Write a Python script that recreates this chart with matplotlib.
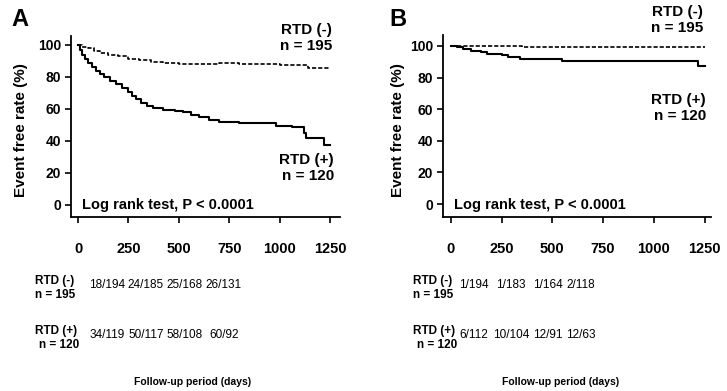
import matplotlib
matplotlib.use("Agg")
import matplotlib.pyplot as plt

plt.rcParams['font.family'] = ['Liberation Sans', 'DejaVu Sans']
plt.rcParams['font.weight'] = 'bold'

# Kaplan-Meier curves (days, event free rate %)
a_neg_t = [0, 20, 50, 80, 110, 150, 200, 250, 300, 360, 420, 500, 600, 700, 800, 900, 1000, 1140, 1250]
a_neg_v = [100, 99, 98, 96.5, 95, 94, 93, 91.5, 90.5, 89.5, 88.5, 88, 88, 88.5, 88, 88, 87.5, 85.5, 85.5]
a_pos_t = [0, 10, 20, 35, 50, 70, 90, 110, 130, 160, 190, 220, 250, 270, 290, 310, 340, 370, 420, 480,
           520, 560, 600, 650, 700, 800, 900, 980, 1060, 1110, 1120, 1130, 1210, 1220, 1250]
a_pos_v = [100, 97, 94, 91.5, 89, 86.5, 84, 82, 80, 77.5, 75.5, 73, 70.5, 68, 66, 64, 62, 60.5, 59.5, 59,
           58, 56.5, 55, 53, 52, 51.5, 51, 49.5, 49, 49, 45, 42, 42, 37.5, 37.5]

b_neg_t = [0, 350, 740, 1250]
b_neg_v = [100, 99.6, 99, 99]
b_pos_t = [0, 30, 60, 100, 150, 180, 250, 280, 340, 450, 550, 600, 800, 1000, 1200, 1215, 1250]
b_pos_v = [100, 99, 98, 97, 96, 94.8, 94.5, 93, 91.7, 91.5, 90.5, 90.2, 90.2, 90.2, 90.2, 87.5, 87]

x_ticks = [0, 250, 500, 750, 1000, 1250]
y_ticks = [0, 20, 40, 60, 80, 100]

a_neg_events = ["18/194", "24/185", "25/168", "26/131"]
a_pos_events = ["34/119", "50/117", "58/108", "60/92"]
b_neg_events = ["1/194", "1/183", "1/164", "2/118"]
b_pos_events = ["6/112", "10/104", "12/91", "12/63"]

W, H = 727, 391
fig = plt.figure(figsize=(W / 100, H / 100), dpi=100)


def px(x, y):
    return x / W, 1 - y / H


panels = [
    dict(letter="A", box=(71, 36, 340, 217), xlim=(-35, 1300), ylim=(-7.5, 105.6),
         neg=(a_neg_t, a_neg_v), pos=(a_pos_t, a_pos_v),
         neg_lbl=(332, 38), pos_lbl=(334, 168), letter_xy=(11, 20), ylab_x=21,
         tbl_lbl_x=35, cols=[107, 146, 185, 224], ev=(a_neg_events, a_pos_events), foot_x=193),
    dict(letter="B", box=(443, 35, 711, 217), xlim=(-38, 1281), ylim=(-8.2, 106.9),
         neg=(b_neg_t, b_neg_v), pos=(b_pos_t, b_pos_v),
         neg_lbl=(703, 20), pos_lbl=(706, 108), letter_xy=(389, 20), ylab_x=398,
         tbl_lbl_x=413, cols=[474, 511, 548, 581], ev=(b_neg_events, b_pos_events), foot_x=561),
]

for p in panels:
    l, t, r, b = p["box"]
    ax = fig.add_axes([l / W, 1 - b / H, (r - l) / W, (b - t) / H])
    ax.step(*p["neg"], where="post", color="black", lw=1.2, ls=(0, (2.5, 1.2)))
    ax.step(*p["pos"], where="post", color="black", lw=1.5)
    ax.set_xlim(*p["xlim"])
    ax.set_ylim(*p["ylim"])
    ax.set_xticks(x_ticks)
    ax.set_yticks(y_ticks)
    for s in ["top", "right"]:
        ax.spines[s].set_visible(False)
    ax.spines["left"].set_linewidth(1.3)
    ax.spines["bottom"].set_linewidth(1.3)
    ax.tick_params(axis="x", length=4, width=1.2, pad=14, labelsize=10.5)
    ax.tick_params(axis="y", length=4, width=1.2, pad=3, labelsize=10)
    ax.text(0.04, 0.065, "Log rank test, P < 0.0001", transform=ax.transAxes,
            fontsize=10.5, fontweight="bold", va="center")

    fig.text(*px(*p["letter_xy"]), p["letter"], fontsize=17, fontweight="bold", va="center")
    fig.text(*px(*p["neg_lbl"]), "RTD (-)\nn = 195", fontsize=11, ha="right", va="center",
             multialignment="right", linespacing=1.1)
    fig.text(*px(*p["pos_lbl"]), "RTD (+)\nn = 120", fontsize=11, ha="right", va="center",
             multialignment="right", linespacing=1.1)
    fig.text(*px(p["ylab_x"], 130), "Event free rate (%)", fontsize=11, rotation=90,
             ha="center", va="center")

    # events / patients at risk table under each panel
    x0 = p["tbl_lbl_x"]
    for row_y, lbl1, lbl2, dx2, evs in [(281, "RTD (-)", "n = 195", 0, p["ev"][0]),
                                        (331, "RTD (+)", "n = 120", 4, p["ev"][1])]:
        fig.text(*px(x0, row_y), lbl1, fontsize=8.5, ha="left", va="center")
        fig.text(*px(x0 + dx2, row_y + 14), lbl2, fontsize=8.5, ha="left", va="center")
        for cx, e in zip(p["cols"], evs):
            fig.text(*px(cx, row_y + 4), e, fontsize=8.5, fontweight="normal", ha="center", va="center")
    fig.text(*px(p["foot_x"], 382), "Follow-up period (days)", fontsize=7.5, ha="center", va="center")

fig.savefig("out.png", dpi=100)
